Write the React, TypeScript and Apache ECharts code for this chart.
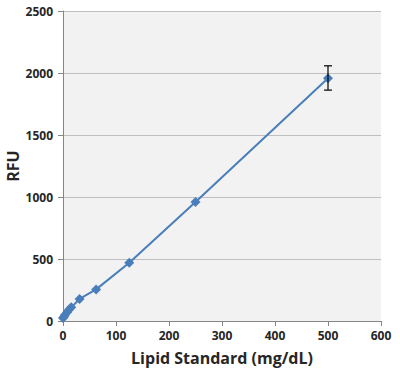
import React, { useEffect, useRef } from "react";
import * as echarts from "echarts";

const concentrations = [0, 1.95, 3.9, 7.8, 11.7, 15.6, 31.25, 62.5, 125, 250, 500];
const rfu = [25, 35, 50, 70, 92, 110, 178, 255, 470, 960, 1957];
const errLow = [25, 35, 50, 70, 92, 110, 178, 255, 470, 960, 1862];
const errHigh = [25, 35, 50, 70, 92, 110, 178, 255, 470, 960, 2058];

export default function App() {
  const ref = useRef<HTMLDivElement>(null);
  useEffect(() => {
    if (!ref.current) return;
    const chart = echarts.init(ref.current, null, { renderer: "svg" });
    const font = "'Open Sans', 'Liberation Sans', sans-serif";
    const errData = concentrations
      .map((c, i) => [c, errLow[i], errHigh[i]])
      .filter((d) => d[2] - d[1] > 0);
    chart.setOption({
      animation: false,
      grid: {
        left: 63, right: 19, top: 11, bottom: 48,
        backgroundColor: "#f2f2f2", show: true, borderWidth: 0,
        containLabel: false, outerBoundsMode: "none",
      },
      xAxis: {
        type: "value",
        min: 0,
        max: 600,
        interval: 100,
        name: "Lipid Standard (mg/dL)",
        nameLocation: "middle",
        nameGap: 29,
        nameMoveOverlap: false,
        nameTextStyle: { fontFamily: font, fontWeight: "bold", fontSize: 16, color: "#262626" },
        axisLine: { show: true, lineStyle: { color: "#868686" } },
        axisTick: { show: true, length: 5, lineStyle: { color: "#868686" } },
        axisLabel: { fontFamily: font, fontWeight: "bold", fontSize: 12, color: "#262626", margin: 8 },
        splitLine: { show: false },
      },
      yAxis: {
        type: "value",
        min: 0,
        max: 2500,
        interval: 500,
        name: "RFU",
        nameLocation: "middle",
        nameGap: 42,
        nameMoveOverlap: false,
        nameRotate: 90,
        nameTextStyle: { fontFamily: font, fontWeight: "bold", fontSize: 16, color: "#262626" },
        axisLine: { show: true, lineStyle: { color: "#868686" } },
        axisTick: { show: true, length: 5, lineStyle: { color: "#868686" } },
        axisLabel: {
          fontFamily: font, fontWeight: "bold", fontSize: 12, color: "#262626", margin: 10,
          formatter: (v: number) => String(v),
        },
        splitLine: { show: true, lineStyle: { color: "#bfbfbf", width: 1 } },
      },
      series: [
        {
          type: "line",
          data: concentrations.map((c, i) => [c, rfu[i]]),
          symbol: "diamond",
          symbolSize: 10,
          lineStyle: { color: "#4a7ebb", width: 2 },
          itemStyle: { color: "#4a7ebb" },
          z: 2,
        },
        {
          type: "custom",
          data: errData,
          z: 3,
          renderItem: (params: any, api: any) => {
            const x = api.value(0);
            const lo = api.coord([x, api.value(1)]);
            const hi = api.coord([x, api.value(2)]);
            const w = 4;
            const style = { stroke: "#000", lineWidth: 1.2 };
            return {
              type: "group",
              children: [
                { type: "line", shape: { x1: lo[0], y1: lo[1], x2: hi[0], y2: hi[1] }, style },
                { type: "line", shape: { x1: lo[0] - w, y1: lo[1], x2: lo[0] + w, y2: lo[1] }, style },
                { type: "line", shape: { x1: hi[0] - w, y1: hi[1], x2: hi[0] + w, y2: hi[1] }, style },
              ],
            };
          },
        },
      ],
    });
    return () => chart.dispose();
  }, []);
  return <div ref={ref} style={{ width: 400, height: 369, position: "absolute", left: 0, top: 0 }} />;
}
